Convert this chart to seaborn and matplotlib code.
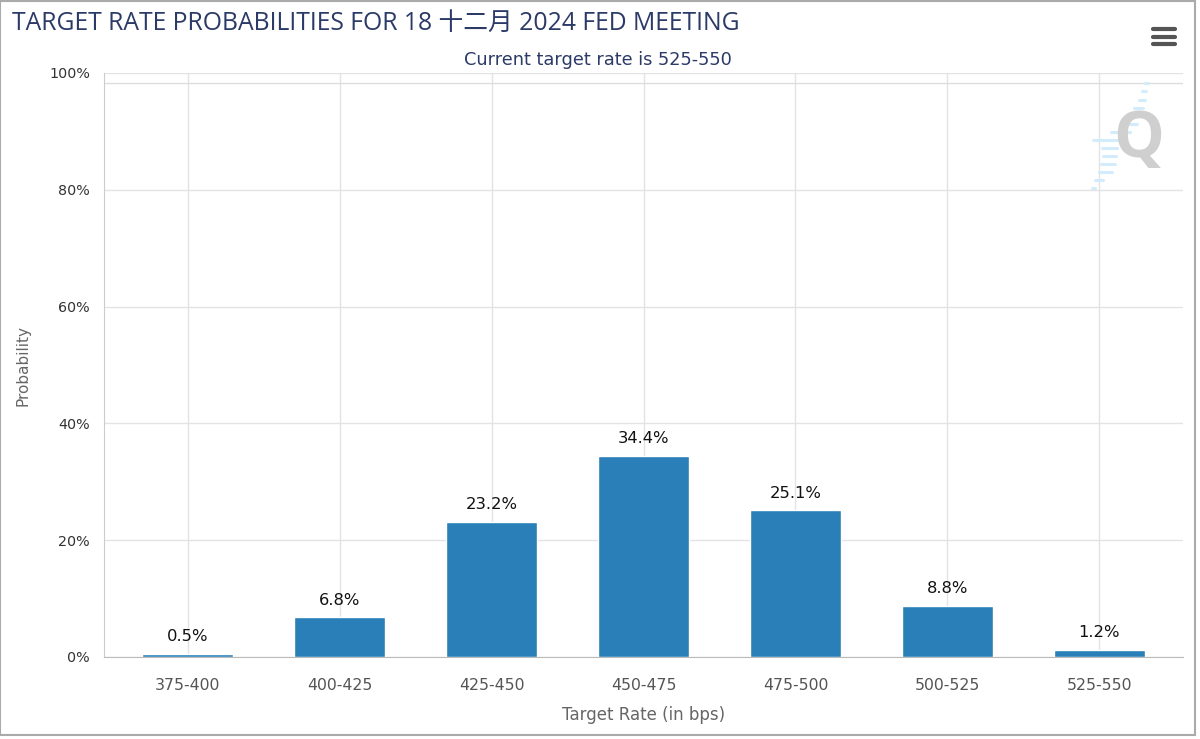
import pandas as pd
import matplotlib.pyplot as plt
import seaborn as sns
from matplotlib.lines import Line2D
from matplotlib.patches import Rectangle

# chart data
rates = ["375-400", "400-425", "425-450", "450-475", "475-500", "500-525", "525-550"]
probs = [0.5, 6.8, 23.2, 34.4, 25.1, 8.8, 1.2]
y_ticks = [0, 20, 40, 60, 80, 100]
y_tick_labels = ["0%", "20%", "40%", "60%", "80%", "100%"]

df = pd.DataFrame({"rate": rates, "prob": probs})

sns.set_style("white")
plt.rcParams["font.family"] = ["DejaVu Sans", "Noto Sans CJK SC"]

fig = plt.figure(figsize=(12, 7.39), dpi=100)
ax = fig.add_axes([104 / 1200, 1 - 657 / 739, (1183 - 104) / 1200, (657 - 73) / 739])

sns.barplot(data=df, x="rate", y="prob", color="#2a7fb8", saturation=1, width=0.6, ax=ax, zorder=3)

ax.set_xlim(-0.55, len(rates) - 0.45)
ax.set_ylim(0, 100)
ax.set_yticks(y_ticks)
ax.set_yticklabels(y_tick_labels, fontsize=10.3, color="#333333")
ax.tick_params(axis="y", length=0, pad=10)
ax.tick_params(axis="x", length=9, color="#cccccc", labelsize=11.3, labelcolor="#555555", pad=6, direction="out")
ax.grid(True, axis="both", color="#e3e3e3", linewidth=1, zorder=0)
ax.set_axisbelow(True)
ax.axhline(98.3, color="#dddddd", linewidth=1, zorder=1)

for s in ["top", "right"]:
    ax.spines[s].set_visible(False)
ax.spines["left"].set_color("#cccccc")
ax.spines["bottom"].set_color("#bbbbbb")

for p, v in zip(ax.patches, probs):
    ax.annotate(f"{v}%", (p.get_x() + p.get_width() / 2, p.get_height()),
                xytext=(0, 7), textcoords="offset points", ha="center", va="bottom",
                fontsize=11.8, color="#111111")

ax.set_xlabel("Target Rate (in bps)", fontsize=12, color="#666666")
ax.set_ylabel("Probability", fontsize=11, color="#666666")
ax.xaxis.set_label_coords(0.5, -(706 - 657) / 584)
ax.yaxis.set_label_coords(-(104 - 30) / 1079, 0.5)

fig.text(12 / 1200, 1 - 23 / 739, "TARGET RATE PROBABILITIES FOR 18 十二月 2024 FED MEETING",
         fontsize=17.8, color="#2b3a67", ha="left", va="center",
         family=["Open Sans", "Noto Sans CJK SC"])
fig.text(598 / 1200, 1 - 60 / 739, "Current target rate is 525-550",
         fontsize=12.8, color="#2b3a67", ha="center", va="center")

# watermark stripes + Q
stripes = [(83, 1145, 1148), (91, 1142, 1146), (100, 1139, 1145), (108, 1134, 1143),
           (116, 1128, 1139), (124, 1120, 1137), (132, 1111, 1130), (140, 1093, 1118),
           (148, 1102, 1117), (156, 1103, 1116), (164, 1101, 1115), (172, 1099, 1112),
           (180, 1095, 1103), (188, 1092, 1095)]
for y, xa, xb in stripes:
    fig.add_artist(Line2D([xa / 1200, xb / 1200], [1 - y / 739, 1 - y / 739],
                          color="#d3ecfb", linewidth=2.2))
fig.text(1139 / 1200, 1 - 141 / 739, "Q", fontsize=46, fontweight="bold", color="#cfcfcf",
         ha="center", va="center", family="Open Sans")

# menu icon
for y in [29, 37, 44]:
    fig.add_artist(Line2D([1153 / 1200, 1175 / 1200], [1 - y / 739, 1 - y / 739],
                          color="#555555", linewidth=3, solid_capstyle="round"))

# frame
fig.add_artist(Rectangle((0, 0.005), 0.996, 0.994, transform=fig.transFigure,
                         fill=False, edgecolor="#aaaaaa", linewidth=1.5))

fig.savefig("out.png", dpi=100)
